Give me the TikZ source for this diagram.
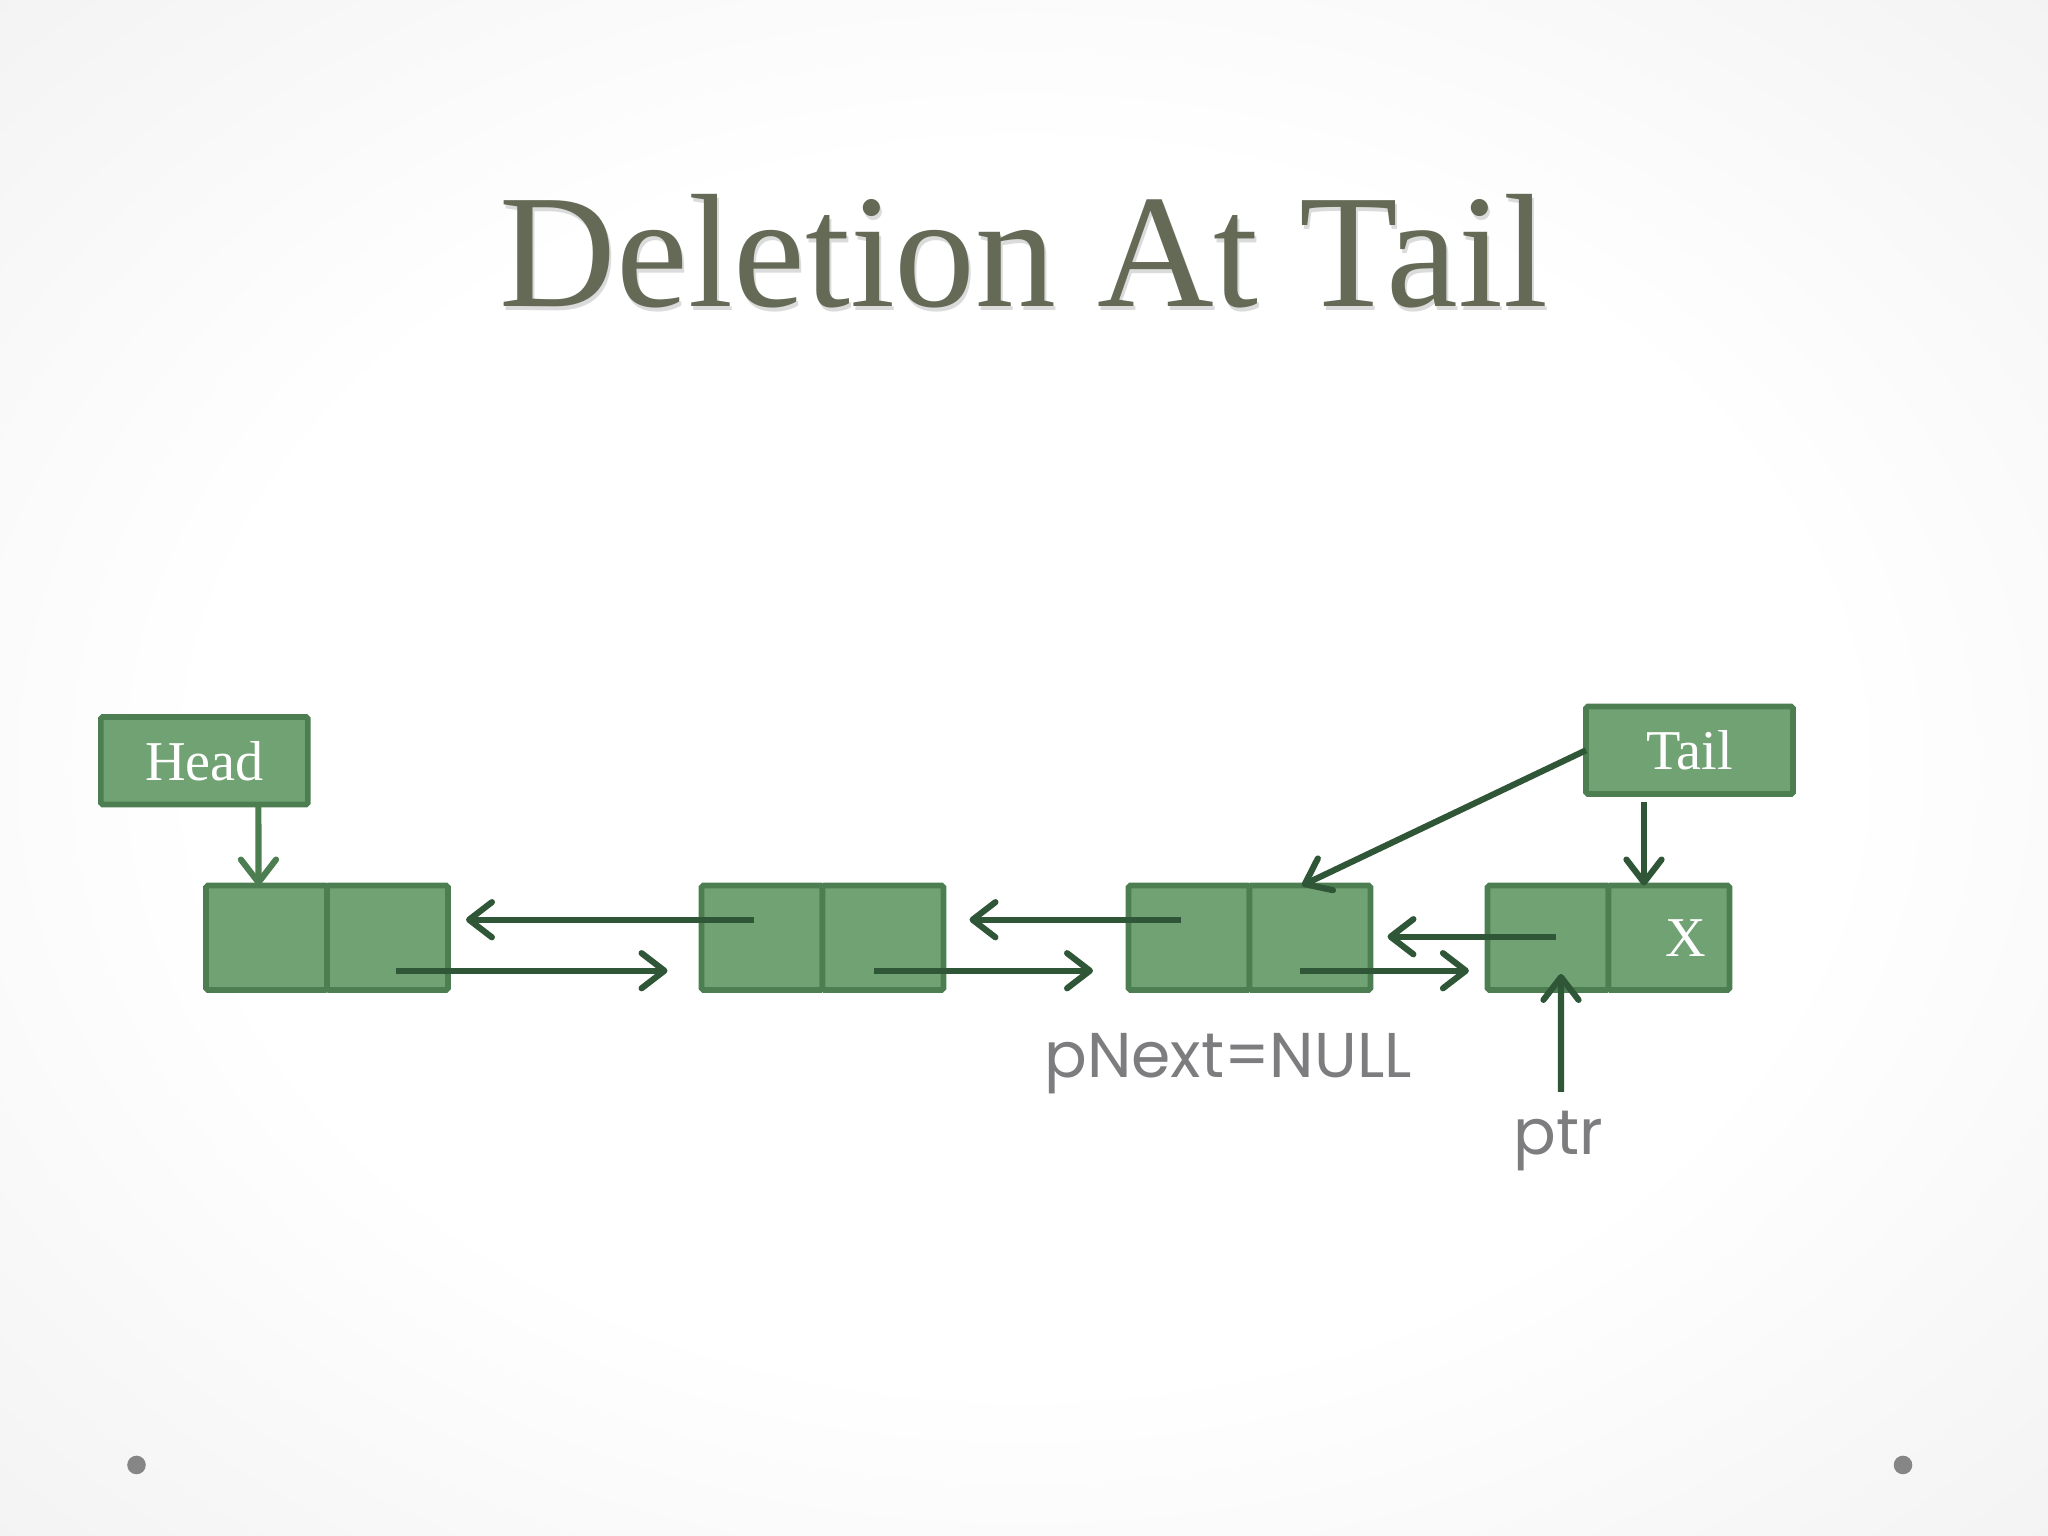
\documentclass[tikz,border=0pt]{standalone}
\usepackage{fontspec}
\setmainfont{Liberation Serif}
\newfontfamily\gothic{Poppins}
\usepackage{tikz}
\usetikzlibrary{positioning,arrows.meta,calc}
\definecolor{cellfill}{RGB}{113,162,116}
\definecolor{celledge}{RGB}{76,126,81}
\definecolor{linkgreen}{RGB}{47,86,54}
\definecolor{titlegray}{RGB}{101,106,86}
\definecolor{notegray}{RGB}{125,125,128}
\pgfdeclareradialshading{slidebg}{\pgfpoint{0bp}{0bp}}{color(0bp)=(white); color(20bp)=(white); color(50bp)=(black!9); color(71bp)=(black!15)}

\begin{document}
\begin{tikzpicture}[
  cell/.style={draw=celledge, fill=cellfill, line width=1.6pt, rounded corners=0.5pt,
               minimum width=1.21cm, minimum height=1.045cm, inner sep=0pt, outer sep=0pt,
               font=\fontsize{16}{18}\selectfont, text=white},
  cellfont/.style={font=\fontsize{16}{18}\selectfont, text=white, inner sep=0pt},
  ptrbox/.style={cell, minimum width=2.07cm, minimum height=0.875cm},
  link/.style={-{Straight Barb[length=6.5pt,width=10pt,round]}, line width=1.75pt, draw=linkgreen},
  note/.style={font=\gothic\fontsize{18}{20}\selectfont, text=notegray, inner sep=0pt},
  titlefont/.style={font=\fontsize{46}{50}\selectfont, inner sep=0pt}
]
  \useasboundingbox (0,0) rectangle (20.48,15.36);
  % Slide background and corner dots
  \shade[shading=slidebg] (0,0) rectangle (20.48,15.36);
  \fill[gray!95] (1.365,0.71) circle (0.093);
  \fill[gray!95] (19.03,0.71) circle (0.093);

  % Title with a soft shadow
  \node[titlefont, anchor=base, text=black!14] (shadow) at (10.26,12.25) {Deletion At Tail};
  \node[titlefont, anchor=base, text=titlegray] (title) at (10.24,12.293) {Deletion At Tail};

  % List nodes: two cells each
  \node[cell] (n1a) at (2.665,5.9825) {};
  \node[cell, right=0pt of n1a] (n1b) {};
  \node[cell] (n2a) at (7.62,5.9825) {};
  \node[cell, right=0pt of n2a] (n2b) {};
  \node[cell] (n3a) at (11.89,5.9825) {};
  \node[cell, right=0pt of n3a] (n3b) {};
  \node[cell] (n4a) at (15.48,5.9825) {};
  \node[cell, right=0pt of n4a, label={[cellfont, xshift=0.17cm]center:X}] (n4b) {};

  % Head and Tail boxes
  \node[ptrbox] (head) at (2.044,7.752) {Head};
  \node[ptrbox] (tail) at (16.895,7.857) {Tail};

  % prev links (upper row)
  \draw[link] ([shift={(-0.08,0.18)}]n2a.center) -- ([shift={(0.18,0.18)}]n1b.east);
  \draw[link] ([shift={(-0.08,0.18)}]n3a.center) -- ([shift={(0.26,0.18)}]n2b.east);
  \draw[link] ([shift={(0.08,0.01)}]n4a.center) -- ([shift={(0.17,0.01)}]n3b.east);

  % next links (lower row)
  \draw[link] ([shift={(0.085,-0.33)}]n1b.center) -- ([shift={(-0.34,-0.33)}]n2a.west);
  \draw[link] ([shift={(-0.09,-0.33)}]n2b.center) -- ([shift={(-0.355,-0.33)}]n3a.west);
  \draw[link] ([shift={(-0.10,-0.33)}]n3b.center) -- ([shift={(-0.186,-0.33)}]n4a.west);

  % Head / Tail pointers
  \draw[link, draw=celledge] ([xshift=0.54cm]head.south) -- ([xshift=-0.08cm]n1a.north);
  \draw[link] (tail.west) -- ([xshift=-0.08cm]n3b.north);
  \draw[link] ([shift={(-0.455,-0.08)}]tail.south) -- ([xshift=-0.25cm]n4b.north);

  % Notes below the list
  \node[note, anchor=base] (null) at (12.28,4.58) {pNext=NULL};
  \node[note, anchor=base] (ptr) at (15.58,3.81) {ptr};
  \coordinate (ptrfoot) at (15.61,4.44);
  \draw[link] (ptrfoot) -- ([shift={(0.13,0.16)}]n4a.south);
\end{tikzpicture}
\end{document}
